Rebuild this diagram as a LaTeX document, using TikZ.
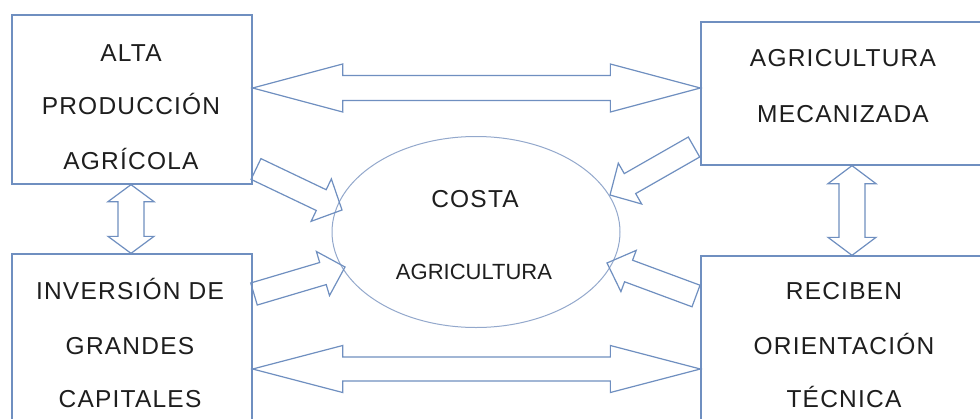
\documentclass[tikz,border=0pt]{standalone}
\usepackage{fontspec}
\setmainfont{Liberation Sans}
\newfontfamily\boxfont[LetterSpace=5]{Liberation Sans}
\usetikzlibrary{calc,shapes.geometric}
\definecolor{lineblue}{HTML}{6F8FC0}
\definecolor{ellblue}{HTML}{93A8CC}
\definecolor{txtgray}{HTML}{1E1E1E}
\tikzset{
  boxst/.style={draw=lineblue, line width=1.3pt, rectangle, inner sep=0pt},
  ellst/.style={draw=ellblue, line width=1pt, ellipse, inner sep=0pt, minimum width=288pt, minimum height=191pt},
  arrst/.style={draw=lineblue, line width=1.2pt, line join=miter},
  boxtxt/.style={anchor=base, inner sep=0pt, text=txtgray, font=\boxfont\fontsize{24.5}{28}\selectfont},
  elltxt/.style={anchor=base, inner sep=0pt, text=txtgray, font=\fontsize{22}{26}\selectfont}
}
\newcommand\dblarr[5]{%
  \path ($(#1)!#3!(#2)$) coordinate (b1) ($(#2)!#3!(#1)$) coordinate (b2);
  \draw[arrst] (#1) -- ($(b1)!#4!90:(#2)$) -- ($(b1)!#5!90:(#2)$) -- ($(b2)!#5!-90:(#1)$) -- ($(b2)!#4!-90:(#1)$) -- (#2) -- ($(b2)!#4!90:(#1)$) -- ($(b2)!#5!90:(#1)$) -- ($(b1)!#5!-90:(#2)$) -- ($(b1)!#4!-90:(#2)$) -- cycle;}
\newcommand\sglarr[5]{%
  \path ($(#2)!#3!(#1)$) coordinate (bb);
  \draw[arrst] ($(#1)!#5!90:(#2)$) -- ($(bb)!#5!-90:(#1)$) -- ($(bb)!#4!-90:(#1)$) -- (#2) -- ($(bb)!#4!90:(#1)$) -- ($(bb)!#5!90:(#1)$) -- ($(#1)!#5!-90:(#2)$) -- cycle;}
\begin{document}
\begin{tikzpicture}[x=1pt,y=-1pt]
\useasboundingbox (0,0) rectangle (980,418);
\fill[white] (0,0) rectangle (980,418);
\clip (0,0) rectangle (980,418);
% boxes
\node[boxst, minimum width=240pt, minimum height=169pt] (tl) at (132,99.5) {};
\node[boxst, minimum width=240pt, minimum height=216pt] (bl) at (132,362) {};
\node[boxst, minimum width=309pt, minimum height=143pt] (tr) at (855.5,93.5) {};
\node[boxst, minimum width=309pt, minimum height=214pt] (br) at (855.5,363) {};
\node[ellst] (el) at (476,232) {};
% texts
\node[boxtxt] (tl1) at (131,61) {ALTA};
\node[boxtxt] (tl2) at (131,114) {PRODUCCIÓN};
\node[boxtxt] (tl3) at (131,169) {AGRÍCOLA};
\node[boxtxt] (bl1) at (130,299) {INVERSIÓN DE};
\node[boxtxt] (bl2) at (130,354) {GRANDES};
\node[boxtxt] (bl3) at (130,407) {CAPITALES};
\node[boxtxt] (tr1) at (843,66) {AGRICULTURA};
\node[boxtxt] (tr2) at (843,122) {MECANIZADA};
\node[boxtxt] (br1) at (844,299) {RECIBEN};
\node[boxtxt] (br2) at (844,354) {ORIENTACIÓN};
\node[boxtxt] (br3) at (844,407) {TÉCNICA};
\node[boxtxt] (el1) at (475,207) {COSTA};
\node[elltxt] (el2) at (474,279) {AGRICULTURA};
% arrow end points
\coordinate (h1a) at (tl.east |- 0,88);
\coordinate (h1b) at (tr.west |- 0,88);
\coordinate (h2a) at (bl.east |- 0,369);
\coordinate (h2b) at (br.west |- 0,369);
\coordinate (v1a) at (tl.south -| 131,0);
\coordinate (v1b) at (bl.north -| 131,0);
\coordinate (v2a) at (tr.south -| 852,0);
\coordinate (v2b) at (br.north -| 852,0);
\coordinate (s1t) at (256,169);
\coordinate (s1h) at (342,210);
\coordinate (s2t) at (254,294);
\coordinate (s2h) at (345,267);
\coordinate (s3t) at (694,147);
\coordinate (s3h) at (610,195);
\coordinate (s4t) at (696,296);
\coordinate (s4h) at (607,263);
% double arrows
\dblarr{h1a}{h1b}{90pt}{24pt}{12.5pt}
\dblarr{h2a}{h2b}{90pt}{23.5pt}{12pt}
\dblarr{v1a}{v1b}{17pt}{23pt}{13pt}
\dblarr{v2a}{v2b}{18pt}{24pt}{13pt}
% single arrows
\sglarr{s1t}{s1h}{23pt}{23.5pt}{11.5pt}
\sglarr{s2t}{s2h}{23pt}{23pt}{11.5pt}
\sglarr{s3t}{s3h}{23pt}{23.5pt}{11.5pt}
\sglarr{s4t}{s4h}{23pt}{22pt}{11.5pt}
\end{tikzpicture}
\end{document}
